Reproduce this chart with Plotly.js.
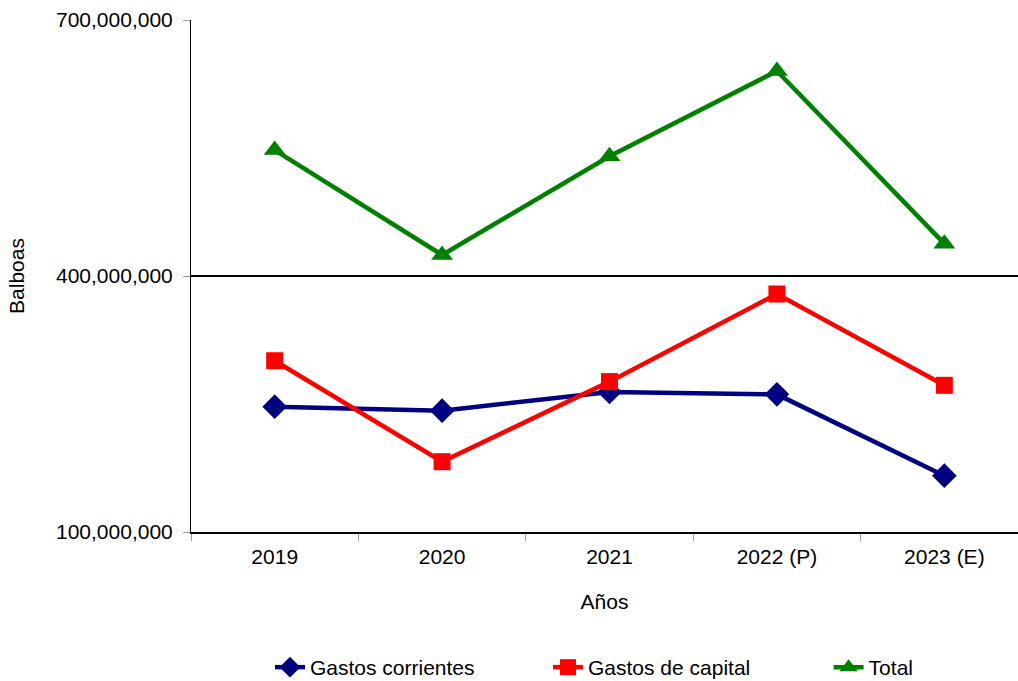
<!DOCTYPE html>
<html>
<head>
<meta charset="utf-8">
<script src="https://cdn.plot.ly/plotly-3.0.1.min.js"></script>
<style>html,body{margin:0;padding:0;background:#fff;overflow:hidden;}#chart{width:1018px;height:688px;}</style>
</head>
<body>
<div id="chart"></div>
<script>
const years = ["2019", "2020", "2021", "2022 (P)", "2023 (E)"];
const gastosCorrientes = [246900000, 242200000, 264100000, 261300000, 166000000];
const gastosCapital = [300700000, 182400000, 276200000, 378900000, 271900000];
const total = [547600000, 424600000, 540300000, 640200000, 437900000];
const yTicks = [100000000, 400000000, 700000000];

const font = "Liberation Sans, Arial, sans-serif";
const fs = 21;

const traces = [
  {x: years, y: gastosCorrientes, name: "Gastos corrientes", type: "scatter", mode: "lines+markers",
   line: {color: "#000080", width: 4.5}, marker: {symbol: "diamond", size: 19, color: "#000080"}, legend: "legend"},
  {x: years, y: gastosCapital, name: "Gastos de capital", type: "scatter", mode: "lines+markers",
   line: {color: "#FF0000", width: 4.5}, marker: {symbol: "square", size: 17, color: "#FF0000"}, legend: "legend"},
  {x: years, y: total, name: "Total", type: "scatter", mode: "lines+markers",
   line: {color: "#008000", width: 4.5}, marker: {symbol: "triangle-up", size: 19, color: "#008000"}, legend: "legend2"}
];

const legendBase = {orientation: "h", yref: "container", y: 0, yanchor: "bottom", xanchor: "left",
  font: {family: font, size: fs, color: "#000"}, bgcolor: "rgba(0,0,0,0)", borderwidth: 0};

const layout = {
  width: 1018, height: 688,
  margin: {l: 191, r: 0, t: 20, b: 156},
  paper_bgcolor: "#fff", plot_bgcolor: "#fff",
  font: {family: font, size: fs, color: "#000"},
  showlegend: true,
  legend: Object.assign({}, legendBase, {x: 0.0955, entrywidth: 233, entrywidthmode: "pixels"}),
  legend2: Object.assign({}, legendBase, {x: 0.771}),
  xaxis: {
    type: "category", range: [-0.5, 4.44],
    showline: true, linecolor: "#000", linewidth: 2,
    ticks: "outside", tickson: "boundaries", ticklen: 7, tickcolor: "#999", tickwidth: 1,
    ticklabelstandoff: 5,
    showgrid: false, zeroline: false,
    tickfont: {family: font, size: fs, color: "#000"},
    title: {text: "Años", font: {family: font, size: fs, color: "#000"}, standoff: 27}
  },
  yaxis: {
    range: [100000000, 700000000], tickvals: yTicks, tickformat: ",d",
    showline: true, linecolor: "#000", linewidth: 1,
    ticks: "outside", ticklen: 7, tickcolor: "#999", tickwidth: 1,
    ticklabelstandoff: 6,
    showgrid: true, gridcolor: "#000", gridwidth: 2, zeroline: false,
    tickfont: {family: font, size: fs, color: "#000"},
    title: {text: "Balboas", font: {family: font, size: fs, color: "#000"}, standoff: 25}
  }
};

Plotly.newPlot("chart", traces, layout, {displayModeBar: false, staticPlot: true});
</script>
</body>
</html>
